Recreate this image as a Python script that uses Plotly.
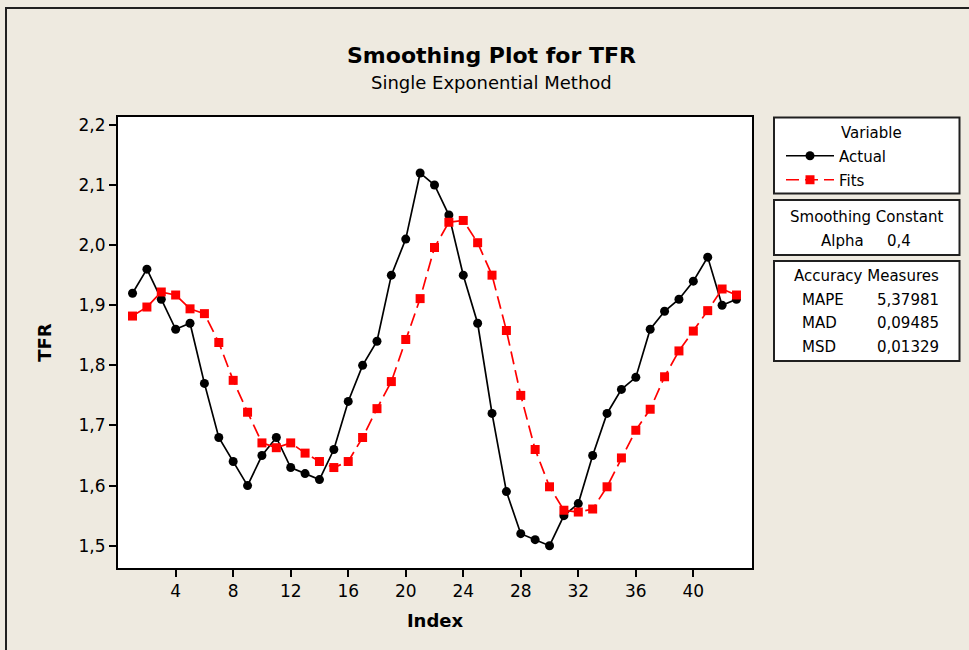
import plotly.graph_objects as go

# ---- data ----
index = list(range(1, 44))
actual = [1.92, 1.96, 1.91, 1.86, 1.87, 1.77, 1.68, 1.64, 1.60, 1.65,
          1.68, 1.63, 1.62, 1.61, 1.66, 1.74, 1.80, 1.84, 1.95, 2.01,
          2.12, 2.10, 2.05, 1.95, 1.87, 1.72, 1.59, 1.52, 1.51, 1.50,
          1.55, 1.57, 1.65, 1.72, 1.76, 1.78, 1.86, 1.89, 1.91, 1.94,
          1.98, 1.90, 1.91]
fits = [1.882, 1.897, 1.922, 1.917, 1.894, 1.886, 1.838, 1.775, 1.722, 1.671,
        1.663, 1.671, 1.654, 1.640, 1.630, 1.640, 1.680, 1.728, 1.773, 1.843,
        1.911, 1.996, 2.038, 2.041, 2.004, 1.950, 1.858, 1.750, 1.660, 1.598,
        1.559, 1.556, 1.561, 1.598, 1.646, 1.692, 1.727, 1.781, 1.824, 1.857,
        1.891, 1.927, 1.917]
x_ticks = [4, 8, 12, 16, 20, 24, 28, 32, 36, 40]
y_ticks = [1.5, 1.6, 1.7, 1.8, 1.9, 2.0, 2.1, 2.2]
alpha_text = "0,4"
accuracy_names = ["MAPE", "MAD", "MSD"]
accuracy_values = ["5,37981", "0,09485", "0,01329"]

W, H = 969, 650
L, R, T, B = 118, 752, 117, 568
FONT = "DejaVu Sans"
BG = "#EEEAE0"


def px(x):
    return (x - L) / (R - L)


def py(y):
    return (B - y) / (B - T)


fig = go.Figure()
fig.add_trace(go.Scatter(
    x=index, y=actual, name="Actual", mode="lines+markers",
    line=dict(color="black", width=1.7),
    marker=dict(symbol="circle", size=9, color="black"),
    legendgroup="a"))
fig.add_trace(go.Scatter(
    x=index, y=fits, name="Fits", mode="lines+markers",
    line=dict(color="#FF0000", width=1.7, dash="13px,6px"),
    marker=dict(symbol="square", size=9, color="#FF0000"),
    legendgroup="b"))

shapes = []
# outer frame
shapes.append(dict(type="rect", xref="paper", yref="paper",
                   x0=px(6), x1=px(990), y0=py(8), y1=py(680),
                   line=dict(color="#202020", width=2), layer="below"))
# legend / info boxes
for (y0, y1) in [(117.5, 193.5), (200, 255), (261, 361)]:
    shapes.append(dict(type="rect", xref="paper", yref="paper",
                       x0=px(774), x1=px(959.5), y0=py(y0), y1=py(y1),
                       line=dict(color="#202020", width=2),
                       fillcolor="white", layer="below"))

ann = []


def add_text(text, x, y, size=15, bold=False, xanchor="center"):
    ann.append(dict(text=("<b>%s</b>" % text) if bold else text,
                    x=px(x), y=py(y), xref="paper", yref="paper",
                    xanchor=xanchor, yanchor="middle", showarrow=False,
                    font=dict(family=FONT, size=size, color="black")))


add_text("Smoothing Plot for TFR", 491, 55, size=22, bold=True)
add_text("Single Exponential Method", 491, 83, size=18)
add_text("Variable", 871, 133, size=15)
add_text("Smoothing Constant", 866, 217, size=15)
add_text("Alpha", 842, 241, size=15)
add_text(alpha_text, 899, 241, size=15)
add_text("Accuracy Measures", 866, 276, size=15)
for i, (n, v) in enumerate(zip(accuracy_names, accuracy_values)):
    yy = 300 + i * 23.4
    add_text(n, 800, yy, size=15, xanchor="left")
    add_text(v, 875, yy, size=15, xanchor="left")

fig.update_layout(
    width=W, height=H,
    margin=dict(l=L, r=W - R, t=T, b=H - B, pad=0),
    paper_bgcolor=BG, plot_bgcolor="white",
    separators=",.",
    font=dict(family=FONT, size=17, color="black"),
    showlegend=True,
    legend=dict(x=px(781), y=py(139.5), xanchor="left", yanchor="top",
                bgcolor="rgba(0,0,0,0)", borderwidth=0,
                font=dict(family=FONT, size=15, color="black"),
                tracegroupgap=1.5, itemwidth=48, traceorder="grouped"),
    shapes=shapes, annotations=ann,
    xaxis=dict(range=[-0.01, 44.08], tickvals=x_ticks, ticks="outside",
               ticklen=7, tickwidth=1.5, tickcolor="black",
               showline=True, linecolor="black", linewidth=2, mirror=True,
               showgrid=False, zeroline=False,
               title=dict(text="<b>Index</b>", font=dict(size=18), standoff=14),
               tickfont=dict(size=17)),
    yaxis=dict(range=[1.4629, 2.2131], tickvals=y_ticks, tickformat=".1f",
               ticks="outside", ticklen=7, tickwidth=1.5, tickcolor="black",
               showline=True, linecolor="black", linewidth=2, mirror=True,
               showgrid=False, zeroline=False,
               title=dict(text="<b>TFR</b>", font=dict(size=18), standoff=22),
               tickfont=dict(size=17)),
)

fig.write_html("out.html",
               config={"displayModeBar": False},
               post_script="document.body.style.margin='0';"
                           "document.body.style.padding='0';"
                           "document.body.style.overflow='hidden';")
